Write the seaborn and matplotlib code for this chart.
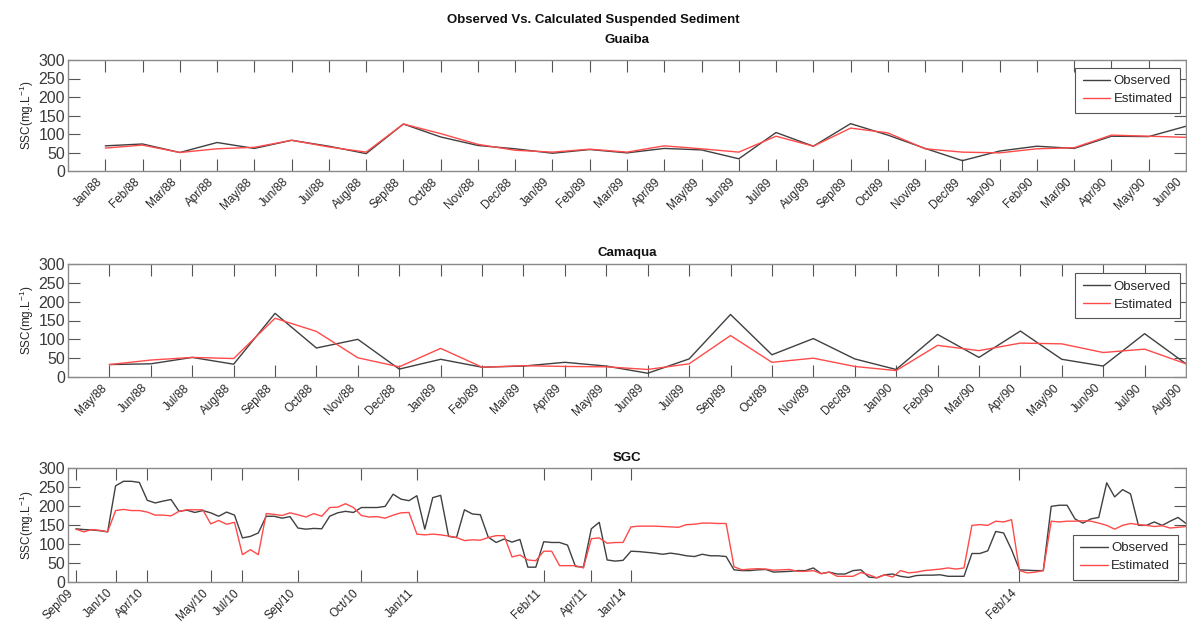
import matplotlib
matplotlib.use("Agg")
import matplotlib.pyplot as plt
import matplotlib.transforms as mtransforms
import numpy as np
import pandas as pd
import seaborn as sns

# ---- Guaiba (monthly) ----
guaiba_labels = ["Jan/88", "Feb/88", "Mar/88", "Apr/88", "May/88", "Jun/88", "Jul/88", "Aug/88",
                 "Sep/88", "Oct/88", "Nov/88", "Dec/88", "Jan/89", "Feb/89", "Mar/89", "Apr/89",
                 "May/89", "Jun/89", "Jul/89", "Aug/89", "Sep/89", "Oct/89", "Nov/89", "Dec/89",
                 "Jan/90", "Feb/90", "Mar/90", "Apr/90", "May/90", "Jun/90"]
guaiba_obs = [68, 73, 50, 77, 61, 83, 67, 47, 127, 92, 69, 60, 48, 58, 49, 61, 57, 33, 104, 67,
              128, 97, 61, 28, 54, 67, 61, 94, 93, 121]
guaiba_est = [62, 70, 50, 60, 64, 83, 65, 51, 127, 101, 72, 56, 51, 59, 51, 68, 60, 51, 94, 67,
              116, 103, 60, 51, 49, 60, 63, 97, 94, 91]

# ---- Camaqua (monthly, no Aug/89 sample) ----
camaqua_labels = ["May/88", "Jun/88", "Jul/88", "Aug/88", "Sep/88", "Oct/88", "Nov/88", "Dec/88",
                  "Jan/89", "Feb/89", "Mar/89", "Apr/89", "May/89", "Jun/89", "Jul/89", "Sep/89",
                  "Oct/89", "Nov/89", "Dec/89", "Jan/90", "Feb/90", "Mar/90", "Apr/90", "May/90",
                  "Jun/90", "Jul/90", "Aug/90"]
camaqua_obs = [33, 35, 52, 34, 169, 77, 100, 21, 47, 26, 29, 39, 29, 10, 48, 166, 59, 102, 48, 20,
               113, 52, 122, 47, 29, 115, 35]
camaqua_est = [33, 45, 52, 49, 156, 121, 51, 27, 76, 26, 30, 28, 27, 20, 35, 110, 39, 50, 28, 17,
               84, 70, 90, 88, 65, 74, 35]

# ---- SGC (irregular sampling, plotted by sample number) ----
sgc_obs = [140, 138, 137, 135, 132, 253, 265, 265, 262, 215,
           208, 213, 217, 186, 189, 183, 188, 182, 173, 184,
           176, 116, 120, 129, 173, 173, 168, 172, 142, 139,
           141, 140, 173, 182, 186, 183, 196, 196, 196, 199,
           231, 218, 214, 227, 139, 222, 228, 120, 117, 190,
           179, 177, 118, 104, 113, 105, 112, 39, 39, 106,
           104, 104, 97, 41, 39, 140, 157, 58, 55, 57,
           81, 80, 78, 76, 73, 76, 73, 69, 67, 73,
           69, 69, 67, 32, 30, 30, 32, 33, 26, 27,
           28, 30, 30, 37, 22, 26, 21, 21, 30, 32,
           13, 11, 19, 21, 15, 12, 17, 18, 18, 19,
           15, 15, 15, 75, 75, 82, 133, 129, 85, 32,
           31, 30, 30, 199, 202, 202, 166, 155, 166, 170,
           261, 224, 243, 232, 149, 149, 158, 149, 160, 170,
           154]
sgc_est = [139, 132, 138, 136, 132, 188, 191, 188, 188, 184,
           176, 176, 174, 186, 190, 190, 190, 153, 162, 152,
           157, 72, 85, 72, 180, 178, 175, 182, 177, 171,
           180, 173, 196, 197, 206, 196, 175, 171, 172, 168,
           176, 182, 183, 126, 124, 126, 124, 121, 117, 109,
           111, 110, 117, 122, 122, 66, 71, 58, 56, 81,
           81, 43, 43, 43, 37, 114, 116, 102, 104, 104,
           145, 147, 147, 147, 146, 145, 144, 151, 152, 155,
           155, 154, 154, 40, 32, 34, 35, 34, 31, 32,
           33, 28, 28, 30, 22, 26, 15, 15, 15, 25,
           19, 11, 19, 13, 30, 24, 26, 30, 32, 34,
           37, 34, 37, 149, 151, 149, 160, 158, 164, 30,
           24, 26, 30, 160, 158, 160, 160, 161, 160, 155,
           149, 139, 149, 154, 151, 149, 146, 148, 142, 144,
           146]
sgc_tick_pos = [1, 6, 10, 18, 22, 29, 37, 44, 60, 66, 71, 120]
sgc_tick_labels = ["Sep/09", "Jan/10", "Apr/10", "May/10", "Jul/10", "Sep/10", "Oct/10",
                   "Jan/11", "Feb/11", "Apr/11", "Jan/14", "Feb/14"]

sns.set_style("white")
plt.rcParams["font.family"] = ["Liberation Sans", "DejaVu Sans"]
plt.rcParams["mathtext.fontset"] = "custom"
plt.rcParams["mathtext.rm"] = "Liberation Sans"
plt.rcParams["mathtext.it"] = "Liberation Sans"

OBS_COLOR = "#404040"
EST_COLOR = "#ff4a4a"
SPINE_COLOR = "#8a8a8a"

W, H = 1187, 626
fig = plt.figure(figsize=(W / 100, H / 100), dpi=100)
# rotated date labels: anchored a little left of and below each tick
label_offset = mtransforms.ScaledTranslation(-9 / 100, -5 / 100, fig.dpi_scale_trans)


def px_axes(left, top, right, bottom):
    return fig.add_axes([left / W, 1 - bottom / H, (right - left) / W, (bottom - top) / H])


def draw_panel(ax, obs, est, title, title_pad, tick_pos, tick_labels, xmax,
               legend_loc, legend_anchor):
    n = len(obs)
    df = pd.DataFrame({
        "sample": np.concatenate([np.arange(1, n + 1), np.arange(1, n + 1)]),
        "ssc": list(obs) + list(est),
        "series": ["Observed"] * n + ["Estimated"] * n,
    })
    sns.lineplot(data=df, x="sample", y="ssc", hue="series",
                 palette={"Observed": OBS_COLOR, "Estimated": EST_COLOR},
                 linewidth=1.0, ax=ax, legend=False)
    ax.set_xlim(0, xmax)
    ax.set_ylim(0, 300)
    ax.set_yticks([0, 50, 100, 150, 200, 250, 300])
    ax.set_xticks(tick_pos)
    ax.set_xticklabels([])
    trans = ax.get_xaxis_transform() + label_offset
    for pos, lab in zip(tick_pos, tick_labels):
        ax.text(pos, 0, lab, transform=trans, rotation=45, ha="right", va="top",
                rotation_mode="anchor", fontsize=8.5, color="#262626", clip_on=False)
    ax.tick_params(axis="y", labelsize=11.5, labelcolor="#3a3a3a", pad=2)
    ax.tick_params(direction="in", length=8.5, width=0.8, color="#555555",
                   top=True, right=True, bottom=True, left=True)
    ax.set_xlabel("")
    ax.set_ylabel("SSC(mg.L$^{-1}$)", fontsize=8.5, color="#262626", labelpad=2)
    for sp in ax.spines.values():
        sp.set_color(SPINE_COLOR)
        sp.set_linewidth(1.0)
    ax.set_title(title, fontsize=9.5, fontweight="bold", color="#111111", pad=title_pad)
    handles = [plt.Line2D([], [], color=OBS_COLOR, lw=1.0),
               plt.Line2D([], [], color=EST_COLOR, lw=1.0)]
    leg = ax.legend(handles, ["Observed", "Estimated"], loc=legend_loc,
                    bbox_to_anchor=legend_anchor, fontsize=9.5, frameon=True,
                    fancybox=False, framealpha=1, edgecolor="#555555",
                    handlelength=2.1, handletextpad=0.25, borderpad=0.55,
                    labelspacing=0.45, borderaxespad=0)
    leg.get_frame().set_linewidth(0.8)


ax1 = px_axes(68, 60, 1186, 171)
draw_panel(ax1, guaiba_obs, guaiba_est, "Guaiba", 12,
           list(range(1, len(guaiba_labels) + 1)), guaiba_labels, len(guaiba_labels),
           "upper right", (0.9945, 0.93))

ax2 = px_axes(68, 264, 1186, 377)
draw_panel(ax2, camaqua_obs, camaqua_est, "Camaqua", 6,
           list(range(1, len(camaqua_labels) + 1)), camaqua_labels, len(camaqua_labels),
           "upper right", (0.9945, 0.92))

ax3 = px_axes(68, 468, 1186, 582)
draw_panel(ax3, sgc_obs, sgc_est, "SGC", 5, sgc_tick_pos, sgc_tick_labels, len(sgc_obs),
           "lower right", (0.9925, 0.02))

fig.text(593 / W, 1 - 20 / H, "Observed Vs. Calculated Suspended Sediment",
         ha="center", va="center", fontsize=9.5, fontweight="bold", color="#111111")

fig.savefig("out.png", dpi=100, facecolor="white")
